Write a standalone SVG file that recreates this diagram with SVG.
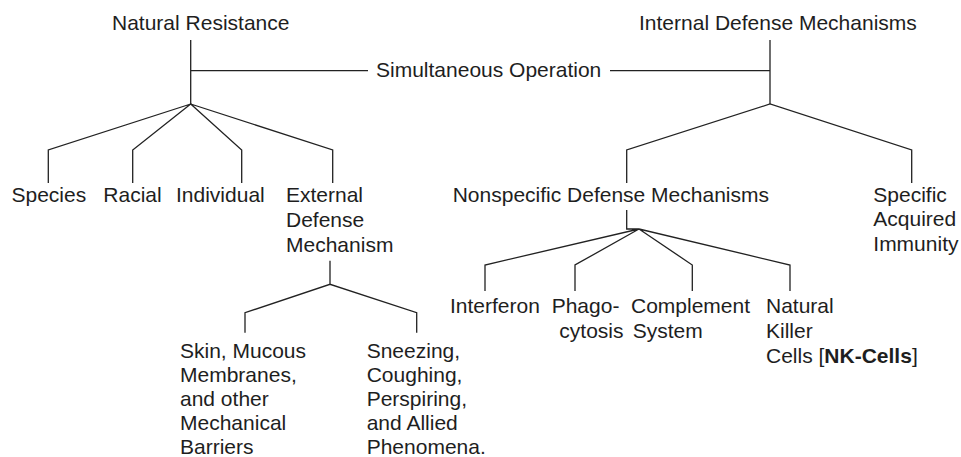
<svg xmlns="http://www.w3.org/2000/svg" width="961" height="457" viewBox="0 0 961 457">
<style>
text{font-family:"Liberation Sans",Arial,sans-serif;font-size:21px;fill:#1e1e1e}
.b{font-weight:bold}
#connectors path{fill:none;stroke:#222;stroke-width:1.3}
</style>
<rect width="961" height="457" fill="#fff"/>
<g id="connectors">
<path d="M190.7,40V104M190.7,70.7H368M610,70.7H770M770,40V104"/>
<path d="M48.3,183V150L190.7,104L132.7,150V183M190.7,104L241.7,150V183M190.7,104L332.7,150V183"/>
<path d="M626.7,183V150L770,104L911.7,150V183"/>
<path d="M330,260.7V284.3M245,332.7V312.7L330,284.3L416.7,312.7V332.7"/>
<path d="M626.7,210V229H639M485,291V265L639,229L575,265V291M639,229L692.3,265V291M639,229L790,265V291"/>
</g>
<g id="natural-resistance"><text x="112" y="30">Natural Resistance</text></g>
<g id="internal-defense"><text x="639" y="30">Internal Defense Mechanisms</text></g>
<g id="simultaneous"><text x="376" y="77">Simultaneous Operation</text></g>
<g id="species"><text x="11.5" y="202">Species</text></g>
<g id="racial"><text x="103.3" y="202">Racial</text></g>
<g id="individual"><text x="176" y="202">Individual</text></g>
<g id="external"><text x="286" y="202">External<tspan x="286" dy="24.8">Defense</tspan><tspan x="286" dy="24.8">Mechanism</tspan></text></g>
<g id="nonspecific"><text x="452.7" y="202">Nonspecific Defense Mechanisms</text></g>
<g id="specific"><text x="873.3" y="202">Specific<tspan x="873.3" dy="24.4">Acquired</tspan><tspan x="873.3" dy="24.4">Immunity</tspan></text></g>
<g id="skin"><text x="180" y="357.5">Skin, Mucous<tspan x="180" dy="24.2">Membranes,</tspan><tspan x="180" dy="24.2">and other</tspan><tspan x="180" dy="24.2">Mechanical</tspan><tspan x="180" dy="24.2">Barriers</tspan></text></g>
<g id="sneezing"><text x="366.7" y="357.5">Sneezing,<tspan x="366.7" dy="24.2">Coughing,</tspan><tspan x="366.7" dy="24.2">Perspiring,</tspan><tspan x="366.7" dy="24.2">and Allied</tspan><tspan x="366.7" dy="24.2">Phenomena.</tspan></text></g>
<g id="interferon"><text x="450" y="313.3">Interferon</text></g>
<g id="phagocytosis"><text x="551.7" y="313.3">Phago-</text><text x="559.3" y="338.3">cytosis</text></g>
<g id="complement"><text x="631" y="313.3">Complement<tspan x="632.7" dy="25">System</tspan></text></g>
<g id="nk-cells"><text x="766" y="313.3">Natural<tspan x="766" dy="25">Killer</tspan><tspan x="766" dy="25">Cells [<tspan class="b">NK-Cells</tspan>]</tspan></text></g>
</svg>
